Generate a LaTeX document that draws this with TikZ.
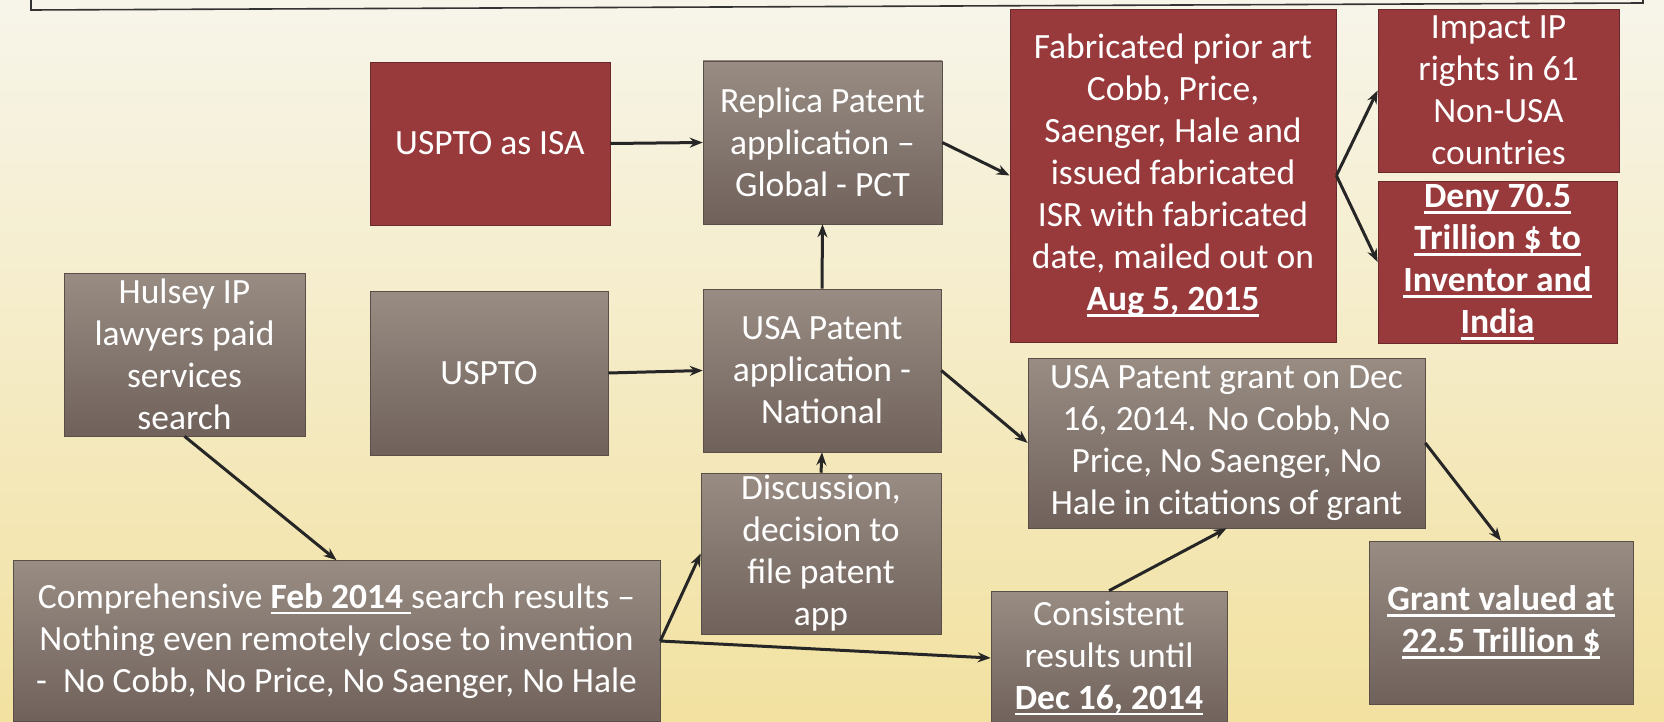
\documentclass[tikz,border=0pt]{standalone}
\usepackage{fontspec}
\setmainfont{Carlito}
\usetikzlibrary{arrows.meta}
\definecolor{bgtop}{RGB}{247,245,234}
\definecolor{bgmid}{RGB}{245,238,188}
\definecolor{bgbot}{RGB}{242,225,160}
\definecolor{redbox}{RGB}{152,58,60}
\definecolor{graytop}{RGB}{152,140,131}
\definecolor{graybot}{RGB}{112,98,91}
\newcommand\myul[1]{\setbox0\hbox{#1}\rlap{\rule[-6pt]{\wd0}{2.6pt}}\box0}
\tikzset{
  basebox/.style={rectangle, inner sep=0pt, align=center, text=white,
    font=\fontsize{35.5}{42}\selectfont},
  redb/.style={basebox, fill=redbox, draw=redbox!70!black, line width=0.8pt},
  grayb/.style={basebox, top color=graytop, bottom color=graybot, draw=graybot!80!black, line width=0.6pt},
  arr/.style={-{Stealth[length=13pt,width=10pt]}, line width=3pt, draw=black!85},
}
\begin{document}
\begin{tikzpicture}[x=1pt,y=-1pt]
\useasboundingbox (0,0) rectangle (1664,722);
\shade[top color=bgtop, middle color=bgmid, bottom color=bgbot] (0,0) rectangle (1664,722);
\draw[line width=1.6pt, black!80] (31,-30) -- (31,10) -- (1643,3) -- (1643,-30);

\node[redb, minimum width=240pt, minimum height=163pt] (A) at (490,143.5) {USPTO as ISA};
\node[grayb, minimum width=239pt, minimum height=163pt] (B) at (822.5,142.5) {Replica Patent\\application –\\Global - PCT};
\node[redb, minimum width=326pt, minimum height=333pt] (C) at (1173,175.5) {Fabricated prior art\\Cobb, Price,\\Saenger, Hale and\\issued fabricated\\ISR with fabricated\\date, mailed out on\\\textbf{\myul{Aug 5, 2015}}};
\node[redb, minimum width=241pt, minimum height=163pt] (D) at (1498.5,90.5) {Impact IP\\rights in 61\\Non-USA\\countries};
\node[redb, minimum width=239pt, minimum height=162pt, font=\fontsize{35.5}{42}\selectfont\bfseries] (E) at (1497.5,262) {\myul{Deny 70.5}\\\myul{Trillion \$ to}\\\myul{Inventor and}\\\myul{India}};
\node[grayb, minimum width=241pt, minimum height=163pt] (F) at (184.5,354.5) {Hulsey IP\\lawyers paid\\services\\search};
\node[grayb, minimum width=238pt, minimum height=164pt] (G) at (489,373) {USPTO};
\node[grayb, minimum width=238pt, minimum height=163pt] (H) at (822,370.5) {USA Patent\\application -\\National};
\node[grayb, minimum width=240pt, minimum height=161pt] (I) at (821,553.5) {Discussion,\\decision to\\file patent\\app};
\node[grayb, minimum width=397pt, minimum height=170pt] (J) at (1226.5,443) {USA Patent grant on Dec\\16, 2014. No Cobb, No\\Price, No Saenger, No\\Hale in citations of grant};
\node[grayb, minimum width=647pt, minimum height=161pt] (K) at (336.5,641) {Comprehensive \textbf{\myul{Feb 2014\ }}search results –\\Nothing even remotely close to invention\\-\ \ No Cobb, No Price, No Saenger, No Hale};
\node[grayb, minimum width=236pt, minimum height=134pt] (L) at (1109,658) {Consistent\\results until\\\textbf{\myul{Dec 16, 2014}}};
\node[grayb, minimum width=264pt, minimum height=163pt, font=\fontsize{35.5}{42}\selectfont\bfseries] (M) at (1501,622.5) {\myul{Grant valued at}\\\myul{22.5 Trillion \$}};

\draw[arr] (A.east) -- (B.west);
\draw[arr] (H.north) -- (B.south);
\draw[arr] (B.east) -- (C.west);
\draw[arr] (C.east) -- (D.west);
\draw[arr] (C.east) -- (E.west);
\draw[arr] (G.east) -- (H.west);
\draw[arr] (I.north) -- (H.south);
\draw[arr] (H.east) -- (J.west);
\draw[arr] (F.south) -- (K.north);
\draw[arr] (K.east) -- (I.west);
\draw[arr] (K.east) -- (L.west);
\draw[arr] (L.north) -- (J.south);
\draw[arr] (J.east) -- (M.north);
\end{tikzpicture}
\end{document}
